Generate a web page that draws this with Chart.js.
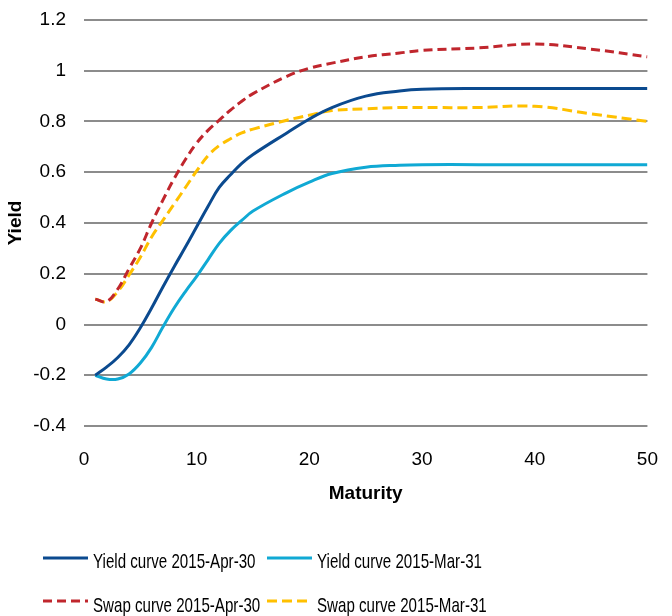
<!DOCTYPE html>
<html>
<head>
<meta charset="utf-8">
<script src="https://cdn.jsdelivr.net/npm/chart.js@4/dist/chart.umd.min.js"></script>
<style>
  html, body { margin: 0; padding: 0; background: #fff; }
  #wrap { width: 672px; height: 616px; }
</style>
</head>
<body>
<div id="wrap"><canvas id="curvas"></canvas></div>
<script>
// Datos (vencimiento en años, rendimiento en %)
const vencimientos = [1, 2, 3, 4, 5, 6, 7, 8, 9, 10, 11, 12, 13, 14, 15, 18, 20, 22, 25, 28, 30, 35, 40, 45, 50];
const yieldAbr30 = [-0.2, -0.168, -0.13, -0.08, -0.013, 0.065, 0.148, 0.228, 0.305, 0.385, 0.465, 0.54, 0.59, 0.635, 0.67, 0.755, 0.81, 0.855, 0.9, 0.92, 0.927, 0.93, 0.93, 0.93, 0.93];
const yieldMar31 = [-0.2, -0.215, -0.215, -0.195, -0.152, -0.09, -0.01, 0.065, 0.13, 0.19, 0.255, 0.32, 0.37, 0.41, 0.447, 0.52, 0.561, 0.595, 0.62, 0.628, 0.63, 0.63, 0.63, 0.63, 0.63];
const swapAbr30 = [0.1, 0.09, 0.14, 0.22, 0.3, 0.4, 0.49, 0.575, 0.65, 0.715, 0.765, 0.805, 0.845, 0.88, 0.91, 0.978, 1.01, 1.03, 1.055, 1.07, 1.08, 1.09, 1.105, 1.085, 1.055];
const swapMar31 = [0.1, 0.09, 0.13, 0.195, 0.265, 0.345, 0.41, 0.475, 0.54, 0.605, 0.665, 0.705, 0.732, 0.755, 0.77, 0.805, 0.825, 0.843, 0.85, 0.855, 0.855, 0.855, 0.86, 0.83, 0.8];
const etiquetas = ["Yield curve 2015-Apr-30", "Yield curve 2015-Mar-31", "Swap curve 2015-Apr-30", "Swap curve 2015-Mar-31"];

const fuente = "'Liberation Sans', Arial, sans-serif";

const puntos = (serie) => vencimientos.map((x, i) => ({ x: x, y: serie[i] }));

const serie = (label, data, color, dash) => ({
  label: label,
  data: puntos(data),
  borderColor: color,
  backgroundColor: color,
  borderWidth: 3,
  borderDash: dash,
  borderCapStyle: 'butt',
  pointRadius: 0,
  tension: 0.4,
  fill: false
});

// Leyenda dibujada a mano: 2 columnas x 2 filas, texto estrecho como en el original
const colLeyenda = [43, 267];
const filaLeyenda = [558, 601];   // altura de la línea de muestra
const baseTexto = [568, 612];     // línea base del texto
const leyendaPropia = {
  id: 'leyendaPropia',
  afterDraw(chart) {
    const ctx = chart.ctx;
    chart.data.datasets.forEach((ds, i) => {
      const x = colLeyenda[i % 2];
      const fila = Math.floor(i / 2);
      ctx.save();
      ctx.strokeStyle = ds.borderColor;
      ctx.lineWidth = 3;
      ctx.setLineDash(ds.borderDash || []);
      ctx.beginPath();
      ctx.moveTo(x, filaLeyenda[fila]);
      ctx.lineTo(x + 45, filaLeyenda[fila]);
      ctx.stroke();
      ctx.setLineDash([]);
      ctx.translate(x + 50, baseTexto[fila]);
      ctx.scale(0.72, 1);
      ctx.font = '21px ' + fuente;
      ctx.fillStyle = '#000';
      ctx.textBaseline = 'alphabetic';
      ctx.fillText(ds.label, 0, 0);
      ctx.restore();
    });
  }
};

new Chart(document.getElementById('curvas'), {
  type: 'line',
  data: {
    datasets: [
      serie(etiquetas[0], yieldAbr30, '#0b4a8f', []),
      serie(etiquetas[1], yieldMar31, '#10a9d4', []),
      serie(etiquetas[2], swapAbr30, '#c0262d', [9, 5]),
      serie(etiquetas[3], swapMar31, '#ffc000', [10, 5])
    ]
  },
  options: {
    responsive: true,
    maintainAspectRatio: false,
    animation: false,
    layout: { padding: { top: 20, right: 14, left: 0, bottom: 80 } },
    scales: {
      x: {
        type: 'linear',
        min: 0,
        max: 50,
        ticks: { stepSize: 10, color: '#000', padding: 14, font: { family: fuente, size: 19 } },
        grid: { display: false },
        border: { display: false },
        title: {
          display: true,
          text: 'Maturity',
          color: '#000',
          font: { family: fuente, size: 19, weight: 'bold' },
          padding: { top: 0, bottom: 31 }
        },
        afterFit(scale) { scale.height = 110; }
      },
      y: {
        min: -0.4,
        max: 1.2,
        ticks: {
          stepSize: 0.2,
          color: '#000',
          padding: 0,
          font: { family: fuente, size: 19 },
          callback: (v) => String(Math.round(v * 10) / 10)
        },
        grid: { color: '#8c8c8c', lineWidth: 2, drawTicks: true, tickLength: 18, tickColor: 'rgba(0,0,0,0)' },
        border: { display: false },
        title: {
          display: true,
          text: 'Yield',
          color: '#000',
          font: { family: fuente, size: 19, weight: 'bold' },
          padding: { top: 4, bottom: 0 }
        },
        afterFit(scale) { scale.width = 84; }
      }
    },
    plugins: {
      legend: { display: false },
      tooltip: { enabled: false }
    }
  },
  plugins: [leyendaPropia]
});
</script>
</body>
</html>
